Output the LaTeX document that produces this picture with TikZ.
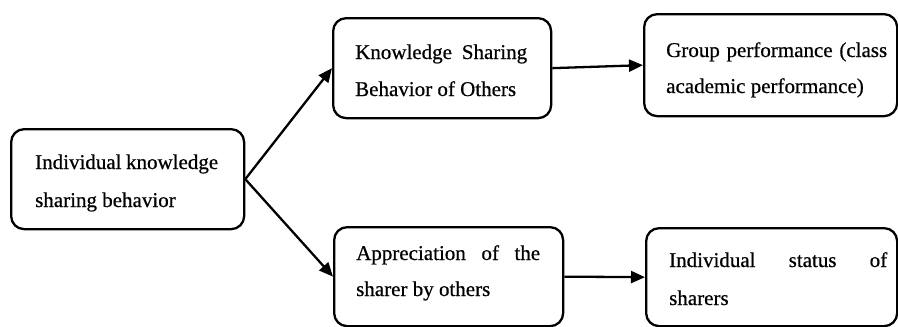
\documentclass[tikz,border=0pt]{standalone}
\usepackage{fontspec}
\setmainfont[FakeBold=0.6]{Liberation Serif}
\usetikzlibrary{arrows.meta}
\tikzset{
  box/.style={draw, rectangle, rounded corners=13pt, line width=2.3pt, inner sep=0pt, anchor=north west},
  txt/.style={anchor=base west, inner sep=0pt, font=\fontsize{21}{24}\selectfont},
  conn/.style={line width=2.3pt, -{Triangle[length=14pt,width=12pt]}}
}
\begin{document}
\begin{tikzpicture}[x=1pt,y=-1pt]
\useasboundingbox (0,0) rectangle (898,327);
% boxes
\node[box, minimum width=233pt, minimum height=100pt] (A) at (10,128) {};
\node[box, minimum width=218pt, minimum height=100pt] (B) at (332,17) {};
\node[box, minimum width=253pt, minimum height=102pt] (C) at (643,13) {};
\node[box, minimum width=229pt, minimum height=99pt] (D) at (333,226) {};
\node[box, minimum width=251pt, minimum height=98pt] (E) at (645,227) {};
% texts
\node[txt] (a1) at (35,169) {\makebox[183pt][s]{Individual knowledge}};
\node[txt] (a2) at (35,207) {sharing behavior};
\node[txt] (b1) at (355,59) {\makebox[172pt][s]{Knowledge Sharing}};
\node[txt] (b2) at (355,96) {Behavior of Others};
\node[txt] (c1) at (666,57) {\makebox[221pt][s]{Group performance (class}};
\node[txt] (c2) at (666,93) {academic performance)};
\node[txt] (d1) at (356,260) {\makebox[184pt][s]{Appreciation of the}};
\node[txt] (d2) at (356,296) {sharer by others};
\node[txt] (e1) at (669,267) {\makebox[218pt][s]{Individual status of}};
\node[txt] (e2) at (669,305) {sharers};
% connectors
\draw[conn] (A.east) -- (B.west);
\draw[conn] (A.east) -- (D.west);
\draw[conn] (B.east) -- (C.west);
\draw[conn] (D.east) -- (E.west);
\end{tikzpicture}
\end{document}
